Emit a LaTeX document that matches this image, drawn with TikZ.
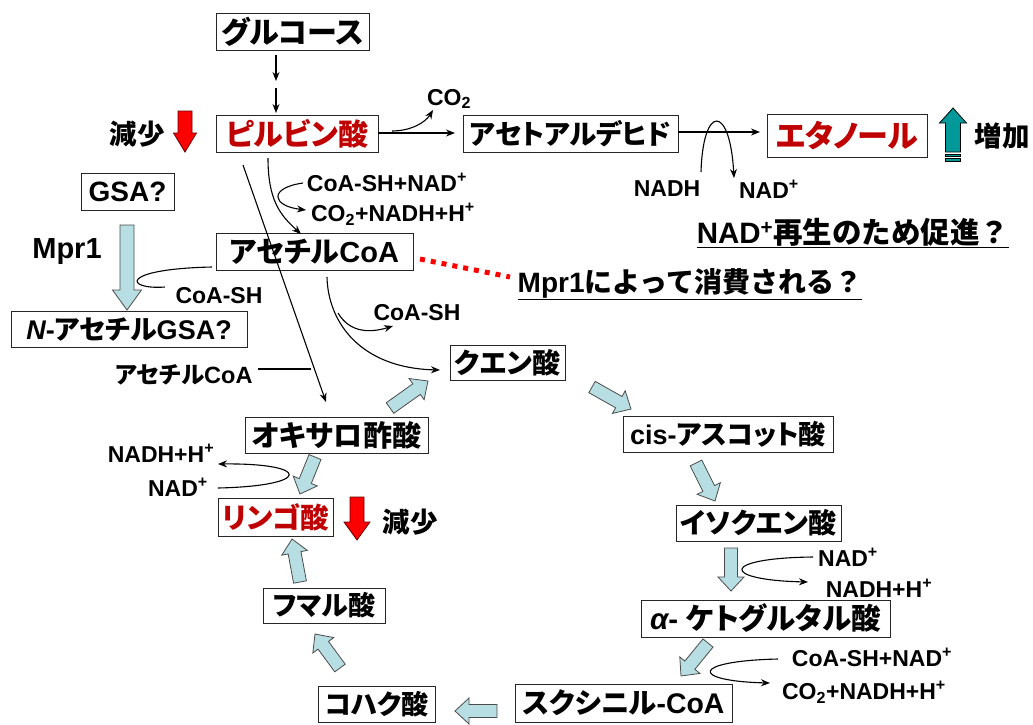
\documentclass[tikz,border=0pt]{standalone}
\usepackage{fontspec}
\setmainfont{Liberation Sans}
\newfontfamily\jp{Noto Sans CJK JP}[RawFeature=+palt]
\newfontfamily\jpw{Noto Sans CJK JP}
\usetikzlibrary{calc,arrows.meta}
\definecolor{jred}{RGB}{192,0,0}
\definecolor{lblue}{RGB}{183,222,226}
\definecolor{tealA}{RGB}{0,153,153}
\newcommand\J[1]{{\jp #1}}
\newcommand\W[1]{{\jpw #1}}
\newcommand\sups{\textsuperscript{+}}
% block arrow: tail, tip, half shaft width, half head width, head length, style
\newcommand\barrow[6]{%
  \coordinate (hb) at ($(#2)!#5!(#1)$);
  \draw[#6] ($(#1)!#3!90:(#2)$) -- ($(hb)!#3!-90:(#1)$) -- ($(hb)!#4!-90:(#1)$) -- (#2)
    -- ($(hb)!#4!90:(#1)$) -- ($(hb)!#3!90:(#1)$) -- ($(#1)!#3!-90:(#2)$) -- cycle;}
\begin{document}
\begin{tikzpicture}[x=1pt,y=-1pt,
  fs/.style={font=\bfseries\fontsize{#1}{#1}\selectfont},
  box/.style={draw=black!85, line width=1pt, inner sep=0pt, minimum height=37pt},
  lab/.style={inner sep=0pt, fs=23},
  big/.style={inner sep=0pt, fs=27.5},
  con/.style={line width=1.1pt, -{Stealth[length=9pt,width=7pt]}},
  plain/.style={line width=1.1pt},
  barr/.style={draw=black!70, line width=0.8pt, fill=lblue},
  redarr/.style={draw=black!60!red, line width=0.8pt, fill=red},
  tealarr/.style={draw=black, line width=0.8pt, fill=tealA},
]
\fill[white] (0,0) rectangle (1033,724);
\useasboundingbox (0,0) rectangle (1033,724);

% ---- boxes
\node[box, fs=30, minimum width=153pt] (glc) at (292.5,31.5) {\J{グルコース}};
\node[box, fs=30, minimum width=162pt, text=jred] (pyr) at (297,133.5) {\J{ピルビン酸}};
\node[box, fs=27.5, minimum width=215pt] (ald) at (570.5,133.5) {\J{アセトアルデヒド}};
\node[box, fs=31, minimum width=160pt, minimum height=43pt, text=jred] (eth) at (847,135.5) {\J{エタノール}};
\node[box, fs=28, minimum width=93pt] (gsa) at (127.5,191.5) {GSA?};
\node[box, fs=27, minimum width=236pt, minimum height=36pt] (nag) at (129,329) {{\itshape N}-\J{アセチル}GSA?};
\node[box, fs=29, minimum width=197pt] (acoa) at (314.5,251.5) {\J{アセチル}CoA};
\node[box, fs=28, minimum width=115pt, minimum height=35pt] (cit) at (507.5,362.5) {\J{クエン酸}};
\node[box, fs=29, minimum width=183pt, minimum height=36pt] (oaa) at (336.5,435) {\J{オキサロ酢酸}};
\node[box, fs=28.5, minimum width=115pt, minimum height=38pt, text=jred] (mal) at (275.5,517) {\J{リンゴ酸}};
\node[box, fs=27, minimum width=122pt, minimum height=35pt] (fum) at (324,605.5) {\J{フマル酸}};
\node[box, fs=27, minimum width=117pt, minimum height=36pt] (suc) at (376.5,704) {\J{コハク酸}};
\node[box, fs=28.4, minimum width=217pt, minimum height=38pt] (scoa) at (623.5,703) {\J{スクシニル}-CoA};
\node[box, fs=29.5, minimum width=249pt] (akg) at (765.5,618.5) {{\itshape α}- \J{ケトグルタル酸}};
\node[box, fs=28, minimum width=165pt, minimum height=36pt] (icit) at (758.5,523) {\J{イソクエン酸}};
\node[box, fs=27, minimum width=210pt, minimum height=36pt] (cis) at (728,434) {cis-\J{アスコット酸}};

% ---- big labels
\node[big] (dec1) at (137,134) {\W{減少}};
\node[big] (inc) at (1002,136) {\W{増加}};
\node[big] (dec2) at (410,522) {\W{減少}};
\node[big, fs=29] (mpr) at (67,252) {Mpr1};
\node[big, fs=29.5] (q1) at (853,233) {\underline{NAD\sups\W{再生のため促進？}}};
\node[big, fs=28] (q2) at (690,284) {\underline{Mpr1\W{によって消費される？}}};

% ---- small labels
\node[lab] (co2a) at (449,99) {CO\textsubscript{2}};
\node[lab] (l1) at (387,182) {CoA-SH+NAD\sups};
\node[lab] (l2) at (393,214) {CO\textsubscript{2}+NADH+H\sups};
\node[lab] (nadh1) at (667,189) {NADH};
\node[lab] (nad1) at (769,189) {NAD\sups};
\node[lab] (cosh1) at (219,296) {CoA-SH};
\node[lab] (cosh2) at (417,313) {CoA-SH};
\node[lab, fs=23.5] (acl) at (184,375) {\J{アセチル}CoA};
\node[lab] (nadh2) at (161,453) {NADH+H\sups};
\node[lab] (nad2) at (178,487) {NAD\sups};
\node[lab] (nad3) at (848,557) {NAD\sups};
\node[lab] (nadh3) at (879,588) {NADH+H\sups};
\node[lab] (l3) at (872,657) {CoA-SH+NAD\sups};
\node[lab] (l4) at (864,692) {CO\textsubscript{2}+NADH+H\sups};

% ---- coordinates for connector ends
\coordinate (g1) at (276,55);  \coordinate (g2) at (276,81);
\coordinate (g3) at (276,88);  \coordinate (g4) at (276,113);
\coordinate (c1) at (392,131); \coordinate (c2) at (433,110);
\coordinate (pa) at (455,133); \coordinate (pb) at (378,133);
\coordinate (ea) at (678,132); \coordinate (eb) at (760,132);
\coordinate (n1) at (701,172); \coordinate (n2) at (734,178);
\coordinate (p1) at (268,158); \coordinate (p2) at (301,234);
\coordinate (s1) at (303,183); \coordinate (s2) at (306,210);
\coordinate (o1) at (243,165); \coordinate (o2) at (326,402);
\coordinate (h1) at (258,369); \coordinate (h2) at (311,369);
\coordinate (a1) at (327,277); \coordinate (a2) at (440,370);
\coordinate (b1) at (338,313); \coordinate (b2) at (393,326);
\coordinate (m1) at (212,267); \coordinate (m2) at (165,287);
\coordinate (k1) at (218,488); \coordinate (k2) at (218,464);
\coordinate (i1) at (813,557); \coordinate (i2) at (808,582);
\coordinate (j1) at (778,659); \coordinate (j2) at (770,683);
\coordinate (d1) at (420,259); \coordinate (d2) at (510,277);

% ---- thin connectors
\draw[con] (g1) -- (g2);
\draw[con] (g3) -- (g4);
\draw[con] (c1) .. controls (410,131) and (425,123) .. (c2);
\draw[con] (pb) -- (pa);
\draw[con] (ea) -- (eb);
\draw[con] (n1) .. controls (703,104) and (730,104) .. (n2);
\draw[con] (p1) .. controls (268,200) and (280,215) .. (p2);
\draw[con] (s1) .. controls (268,188) and (272,206) .. (s2);
\draw[con] (o1) -- (o2);
\draw[plain] (h1) -- (h2);
\draw[con] (a1) .. controls (328,322) and (360,368) .. (a2);
\draw[con] (b1) .. controls (350,333) and (370,333) .. (b2);
\draw[plain] (m1) .. controls (118,269) and (125,290) .. (m2);
\draw[con] (k1) .. controls (312,486) and (312,463) .. (k2);
\draw[con] (i1) .. controls (720,558) and (720,580) .. (i2);
\draw[con] (j1) .. controls (690,661) and (690,681) .. (j2);
\draw[red, line width=5pt, dash pattern=on 5pt off 6pt] (d1) -- (d2);

% ---- block arrows (cycle)
\coordinate (t1) at (390,408); \coordinate (u1) at (428,381);
\coordinate (t2) at (592,387); \coordinate (u2) at (631,409);
\coordinate (t3) at (696,463); \coordinate (u3) at (715,501);
\coordinate (t4) at (731,548); \coordinate (u4) at (731,591);
\coordinate (t5) at (708,643); \coordinate (u5) at (681,676);
\coordinate (t6) at (497,711); \coordinate (u6) at (455,711);
\coordinate (t7) at (340,668); \coordinate (u7) at (315,634);
\coordinate (t8) at (300,582); \coordinate (u8) at (292,539);
\coordinate (t9) at (315,457); \coordinate (u9) at (300,494);
\barrow{t1}{u1}{6.5pt}{13pt}{14pt}{barr}
\barrow{t2}{u2}{6.5pt}{13pt}{14pt}{barr}
\barrow{t3}{u3}{6.5pt}{13pt}{14pt}{barr}
\barrow{t4}{u4}{6.5pt}{13pt}{14pt}{barr}
\barrow{t5}{u5}{6.5pt}{13pt}{14pt}{barr}
\barrow{t6}{u6}{6.5pt}{13pt}{14pt}{barr}
\barrow{t7}{u7}{6.5pt}{13pt}{14pt}{barr}
\barrow{t8}{u8}{6.5pt}{13pt}{14pt}{barr}
\barrow{t9}{u9}{6.5pt}{13pt}{14pt}{barr}
% GSA arrow
\coordinate (tg) at (127,225); \coordinate (ug) at (127,310);
\barrow{tg}{ug}{7pt}{14.5pt}{20pt}{barr}
% red / teal arrows
\coordinate (tr1) at (185,111); \coordinate (ur1) at (185,152);
\barrow{tr1}{ur1}{7pt}{11.5pt}{19pt}{redarr}
\coordinate (tr2) at (357,497); \coordinate (ur2) at (357,540);
\barrow{tr2}{ur2}{7pt}{13pt}{18pt}{redarr}
\coordinate (tt) at (953,152); \coordinate (ut) at (953,108);
\barrow{tt}{ut}{7.5pt}{13.5pt}{15pt}{tealarr}
\draw[tealarr] (945.5,154) rectangle (960.5,156.5);
\draw[tealarr] (945.5,158.5) rectangle (960.5,161);
\end{tikzpicture}
\end{document}
